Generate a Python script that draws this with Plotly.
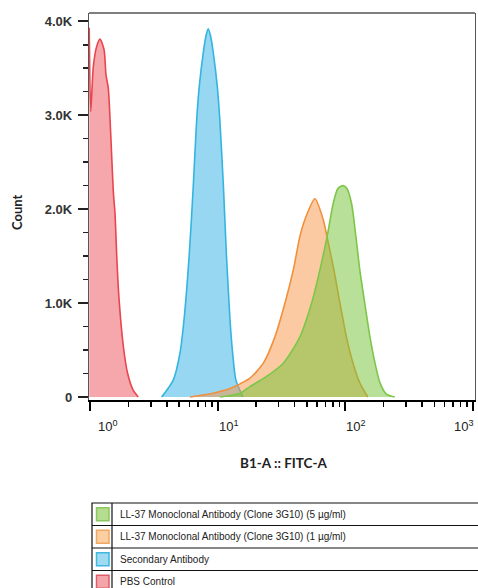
import plotly.graph_objects as go
import numpy as np

# ---------------- data ----------------
pbs_fitc = [0.986, 1.013, 1.062, 1.127, 1.197, 1.288, 1.334, 1.390, 1.452, 1.521,
            1.570, 1.626, 1.687, 1.824, 1.972, 2.183, 2.388]
pbs_count = [3930, 3040, 3520, 3730, 3810, 3700, 3430, 3290, 2810, 2200,
             1950, 1450, 1050, 540, 250, 70, 0]

sec_fitc = [3.64, 4.49, 5.07, 5.45, 6.00, 6.44, 6.85, 7.18, 7.71, 8.09, 8.43,
            8.81, 9.25, 9.93, 10.4, 11.1, 11.7, 12.5, 13.1, 13.9, 15.8]
sec_count = [0, 180, 470, 820, 1530, 2240, 2950, 3310, 3660, 3840, 3920,
             3840, 3660, 3310, 2950, 2240, 1530, 820, 470, 180, 0]

ab1_fitc = [6.07, 9.18, 12.5, 15.0, 17.9, 22.8, 28.1, 33.7, 39.1, 44.1, 48.3,
            57.8, 67.1, 71.8, 81.5, 90.8, 102, 115, 130, 150]
ab1_count = [0, 40, 90, 140, 200, 360, 640, 1000, 1350, 1710, 1890,
             2110, 1890, 1710, 1350, 1000, 640, 360, 150, 0]

ab5_fitc = [10.4, 15.0, 17.9, 24.2, 32.7, 44.1, 54.5, 63.2, 72.1, 80.4, 87.5,
            96.4, 103, 112, 121, 130, 142, 156, 171, 187, 210, 244]
ab5_count = [0, 40, 110, 220, 360, 640, 1000, 1350, 1710, 2060, 2220,
             2250, 2220, 2060, 1710, 1350, 1000, 640, 360, 150, 30, 0]

x_tick_vals = [1, 10, 100, 1000]
x_tick_text = ["10<sup>0</sup>", "10<sup>1</sup>", "10<sup>2</sup>", "10<sup>3</sup>"]
x_minor_vals = [m * 10 ** k for k in range(3) for m in range(2, 10)]
y_tick_vals = [0, 1000, 2000, 3000, 4000]
y_tick_text = ["0", "1.0K", "2.0K", "3.0K", "4.0K"]

legend_labels = ["LL-37 Monoclonal Antibody (Clone 3G10) (5 µg/ml)",
                 "LL-37 Monoclonal Antibody (Clone 3G10) (1 µg/ml)",
                 "Secondary Antibody",
                 "PBS Control"]

# ---------------- geometry ----------------
W, H = 478, 588
L, R, T, B = 89, 475, 13, 400   # plot box in window pixels


def px(x):
    return (x - L) / (R - L)


def py(y):
    return (B - y) / (B - T)


series = [
    (pbs_fitc, pbs_count, "#e8464f", "rgba(236,80,90,0.5)", "PBS Control"),
    (sec_fitc, sec_count, "#33b5e0", "rgba(50,175,228,0.5)", "Secondary Antibody"),
    (ab1_fitc, ab1_count, "#f0903c", "rgba(248,150,70,0.5)", "1 ug/ml"),
    (ab5_fitc, ab5_count, "#7cc64a", "rgba(118,196,58,0.52)", "5 ug/ml"),
]

fig = go.Figure()
for xs, ys, lc, fc, nm in series:
    fig.add_trace(go.Scatter(
        x=xs, y=ys, mode="lines", name=nm,
        line=dict(color=lc, width=1.6, shape="spline", smoothing=0.7),
        fill="tozeroy", fillcolor=fc, showlegend=False, hoverinfo="skip"))

shapes = [
    dict(type="line", xref="paper", yref="paper", x0=0, x1=1, y0=1, y1=1,
         line=dict(color="#555", width=1.5)),
]
annotations = []

# x tick labels (offset as in the reference)
x_label_shift = [18, 11, 11, -9]
for v, t, s in zip(x_tick_vals, x_tick_text, x_label_shift):
    annotations.append(dict(x=np.log10(v), xref="x", y=py(426), yref="paper",
                            text=t, showarrow=False, xshift=s,
                            xanchor="center", yanchor="middle",
                            font=dict(family="Arial", size=13, color="#222")))

# axis titles
annotations.append(dict(x=px(17), y=py(212), xref="paper", yref="paper",
                        text="Count", textangle=-90, showarrow=False,
                        xanchor="center", yanchor="middle",
                        font=dict(family="Lato", size=13, color="#222", weight="bold")))
annotations.append(dict(x=px(284), y=py(463), xref="paper", yref="paper",
                        text="B1-A :: FITC-A", showarrow=False,
                        xanchor="center", yanchor="middle",
                        font=dict(family="Lato", size=13.5, color="#222", weight="bold")))

# legend table
row_h = 22.5
top = 503
tbl_l, tbl_r, col = 92, 495, 112
swatch = [("#b5dc8f", "#8cc860"), ("#fccfa2", "#efa766"),
          ("#9fdaf0", "#3fb7e0"), ("#f4a5aa", "#de5f69")]
shapes.append(dict(type="rect", xref="paper", yref="paper",
                   x0=px(tbl_l), x1=px(tbl_r), y0=py(top), y1=py(top + 4 * row_h),
                   line=dict(color="#111", width=1.2)))
shapes.append(dict(type="line", xref="paper", yref="paper",
                   x0=px(col), x1=px(col), y0=py(top), y1=py(top + 4 * row_h),
                   line=dict(color="#111", width=1.2)))
for i, lab in enumerate(legend_labels):
    yc = top + row_h * (i + 0.5)
    if i > 0:
        shapes.append(dict(type="line", xref="paper", yref="paper",
                           x0=px(tbl_l), x1=px(tbl_r), y0=py(top + row_h * i), y1=py(top + row_h * i),
                           line=dict(color="#111", width=1.2)))
    f, b = swatch[i]
    shapes.append(dict(type="rect", xref="paper", yref="paper",
                       x0=px(96.5), x1=px(109), y0=py(yc - 6.5), y1=py(yc + 6.5),
                       fillcolor=f, line=dict(color=b, width=1.5)))
    annotations.append(dict(x=px(118), y=py(yc), xref="paper", yref="paper",
                            text=lab, showarrow=False, xanchor="left", yanchor="middle",
                            font=dict(family="Arial", size=10, color="#222")))

fig.update_layout(
    width=W, height=H, autosize=False,
    margin=dict(l=L, r=W - R, t=T, b=H - B, pad=0),
    paper_bgcolor="white", plot_bgcolor="white",
    shapes=shapes, annotations=annotations,
    xaxis=dict(type="log", range=[np.log10(0.982), np.log10(1038)],
               tickvals=x_tick_vals, showticklabels=False, automargin=False,
               ticks="outside", ticklen=9, tickwidth=2, tickcolor="black",
               showline=True, linecolor="black", linewidth=2,
               showgrid=False, zeroline=False,
               minor=dict(tickvals=x_minor_vals, ticks="outside", ticklen=5,
                          tickwidth=1.5, tickcolor="black", showgrid=False)),
    yaxis=dict(range=[-32, 4088], tickvals=y_tick_vals, ticktext=y_tick_text,
               automargin=False, ticklabelstandoff=3,
               ticks="outside", ticklen=10, tickwidth=2, tickcolor="#222",
               tickfont=dict(family="Arial", size=13, color="#333", weight="bold"),
               showline=True, linecolor="#555", linewidth=1.2, mirror=True,
               showgrid=False, zeroline=False,
               minor=dict(dtick=250, tick0=0, ticks="outside", ticklen=5,
                          tickwidth=1.5, tickcolor="#222", showgrid=False)),
)

# remove the default page margin so the figure sits at the window origin
page_fix = ("document.body.style.margin='0';"
            "document.body.style.padding='0';"
            "document.documentElement.style.overflow='hidden';")

fig.write_html("out.html", post_script=page_fix,
               config={"displayModeBar": False, "staticPlot": True})
